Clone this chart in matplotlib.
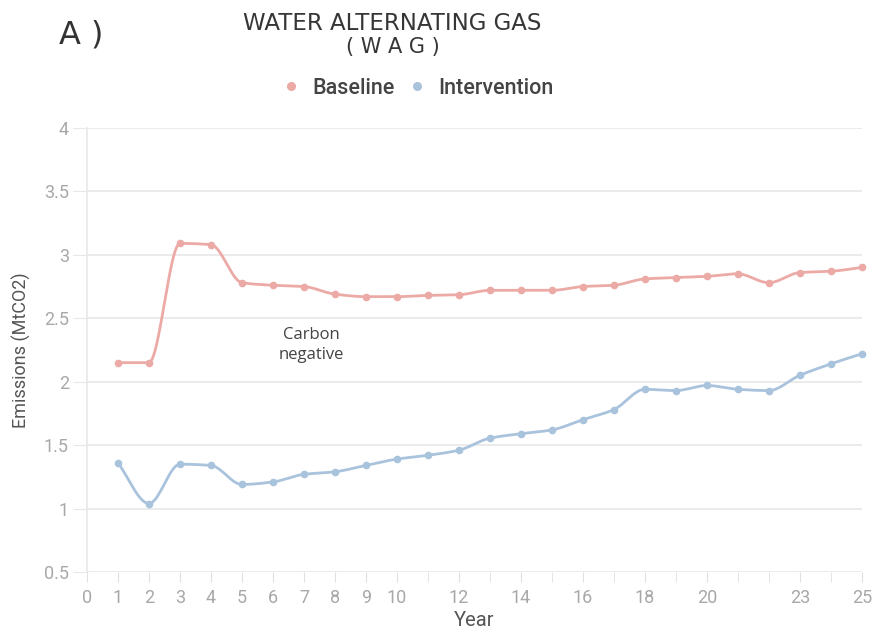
import numpy as np
import matplotlib.pyplot as plt

years = list(range(1, 26))
baseline = [2.15, 2.15, 3.09, 3.08, 2.78, 2.76, 2.75, 2.69, 2.67, 2.67, 2.68, 2.685, 2.72,
            2.72, 2.72, 2.75, 2.76, 2.81, 2.82, 2.83, 2.85, 2.78, 2.86, 2.87, 2.90]
intervention = [1.36, 1.04, 1.35, 1.34, 1.19, 1.21, 1.27, 1.29, 1.34, 1.39, 1.42, 1.46, 1.555,
                1.59, 1.62, 1.70, 1.78, 1.94, 1.93, 1.97, 1.94, 1.93, 2.05, 2.14, 2.22]
xtick_labels = [0, 1, 2, 3, 4, 5, 6, 7, 8, 9, 10, 12, 14, 16, 18, 20, 23, 25]
ytick_labels = ["0.5", "1", "1.5", "2", "2.5", "3", "3.5", "4"]

RED = "#ecaaa6"
BLUE = "#a9c3dd"


def monotone_curve(x, y, n=20):
    """Monotone cubic (Fritsch-Carlson) curve through the points, for a smooth line."""
    x = np.asarray(x, float)
    y = np.asarray(y, float)
    h = np.diff(x)
    d = np.diff(y) / h
    m = np.zeros_like(y)
    m[0], m[-1] = d[0], d[-1]
    for i in range(1, len(y) - 1):
        if d[i - 1] * d[i] > 0:
            m[i] = 2 / (1 / d[i - 1] + 1 / d[i])
    xs, ys = [], []
    for i in range(len(h)):
        t = np.linspace(0, 1, n, endpoint=False)
        h00 = 2 * t**3 - 3 * t**2 + 1
        h10 = t**3 - 2 * t**2 + t
        h01 = -2 * t**3 + 3 * t**2
        h11 = t**3 - t**2
        xs.append(x[i] + t * h[i])
        ys.append(h00 * y[i] + h10 * h[i] * m[i] + h01 * y[i + 1] + h11 * h[i] * m[i + 1])
    xs.append([x[-1]])
    ys.append([y[-1]])
    return np.concatenate(xs), np.concatenate(ys)


fig = plt.figure(figsize=(8.74, 6.3), dpi=100)
ax = fig.add_axes([0.0995, 0.092, 0.8865, 0.705])

for vals, col in [(baseline, RED), (intervention, BLUE)]:
    cx, cy = monotone_curve(years, vals)
    ax.plot(cx, cy, color=col, lw=2, clip_on=False, zorder=3)
    ax.plot(years, vals, 'o', color=col, ms=4.5, clip_on=False, zorder=4)

ax.set_xlim(0, 25)
ax.set_ylim(0.5, 4)
ax.set_yticks(np.arange(0.5, 4.01, 0.5))
ax.set_yticklabels(ytick_labels)
ax.set_xticks(xtick_labels)
ax.set_xticks(range(0, 26), minor=True)
ax.grid(axis='y', color="#e8e8e8", lw=1.2)
ax.set_axisbelow(True)
for s in ["top", "right", "bottom"]:
    ax.spines[s].set_visible(False)
ax.spines["left"].set_color("#e8e8e8")
ax.spines["left"].set_linewidth(1.2)
ax.tick_params(axis='y', length=10, color="#e8e8e8", labelcolor="#a8a8a8", labelsize=13, pad=3)
ax.tick_params(axis='x', which='both', length=7, color="#e0e0e0", labelcolor="#a8a8a8",
               labelsize=13, pad=5)
for lab in ax.get_xticklabels() + ax.get_yticklabels():
    lab.set_family("Roboto")

ax.set_xlabel("Year", family="Roboto", fontsize=14.5, color="#555555", labelpad=3)
ax.set_ylabel("Emissions (MtCO2)", family="Roboto", fontsize=13, color="#555555", labelpad=9)

ax.text(7.23, 2.29, "Carbon\nnegative", ha='center', va='center', fontsize=12,
        color="#444444", family="Open Sans", linespacing=1.3)

fig.text(0.067, 0.944, "A )", fontsize=23, color="#333333", family="DejaVu Sans",
         va='center')
fig.text(0.449, 0.963, "WATER ALTERNATING GAS", fontsize=16.5, color="#363636",
         family="DejaVu Sans", ha='center', va='center')
fig.text(0.449, 0.925, "( W A G )", fontsize=15, color="#363636",
         family="DejaVu Sans", ha='center', va='center')

leg = fig.legend(handles=[plt.Line2D([], [], marker='o', ls='', color=RED, ms=5.5),
                          plt.Line2D([], [], marker='o', ls='', color=BLUE, ms=5.5)],
                 labels=["Baseline", "Intervention"], loc='center', bbox_to_anchor=(0.471, 0.86),
                 ncol=2, frameon=False, handletextpad=0.0, columnspacing=0.0,
                 prop={'family': 'Roboto', 'size': 15.5, 'weight': 'medium'})
for t in leg.get_texts():
    t.set_color("#444444")

fig.savefig("out.png", dpi=100, facecolor="white")
